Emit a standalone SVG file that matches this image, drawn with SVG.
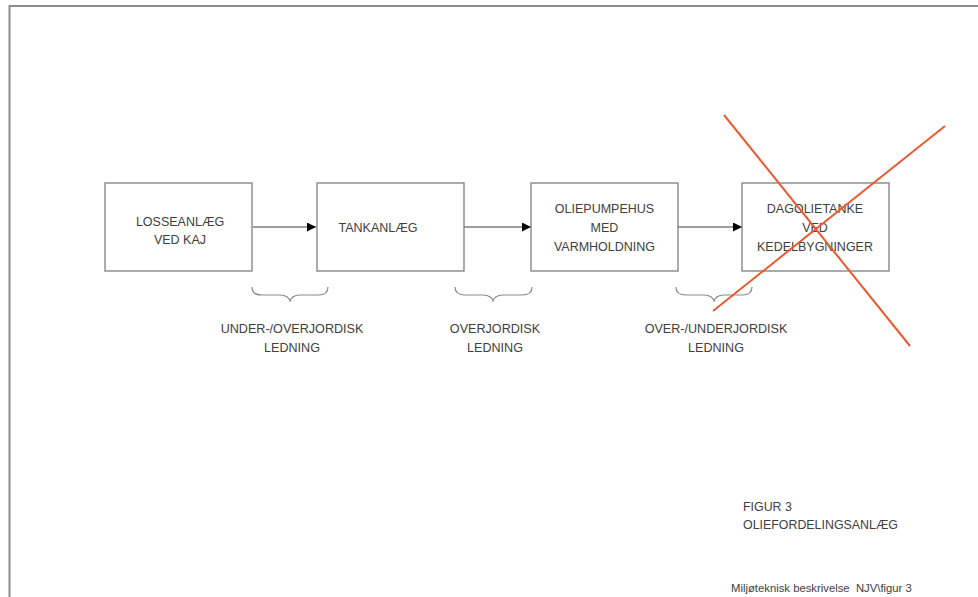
<svg xmlns="http://www.w3.org/2000/svg" width="978" height="597" viewBox="0 0 978 597">
<style>
.box{fill:#fff;stroke:#7f7f7f;stroke-width:1.3}
.t{font-family:"Liberation Sans",Arial,sans-serif;font-size:12.5px;fill:#404040;text-anchor:middle}
.lbl{font-family:"Liberation Sans",Arial,sans-serif;font-size:12.6px;fill:#404040;text-anchor:middle}
.cap{font-family:"Liberation Sans",Arial,sans-serif;font-size:12.4px;fill:#404040}
.arrow{stroke:#404040;stroke-width:1.2;fill:none;marker-end:url(#ah)}
.brace{stroke:#8a8a8a;stroke-width:1.2;fill:none}
.x{stroke:#ea5a30;stroke-width:2;fill:none}
</style>
<defs>
<marker id="ah" viewBox="0 0 10 10" refX="10" refY="5" markerUnits="userSpaceOnUse" markerWidth="9" markerHeight="9" orient="auto">
<path d="M0,0 L10,5 L0,10 Z" fill="#000"/>
</marker>
</defs>
<rect width="978" height="597" fill="#fff"/>
<g id="page-border">
<path d="M9.5,597 L9.5,6 L978,6" stroke="#8c8c8c" stroke-width="2" fill="none"/>
</g>
<g id="connectors">
<line class="arrow" x1="253" y1="227" x2="316" y2="227"/>
<line class="arrow" x1="464" y1="227" x2="531" y2="227"/>
<line class="arrow" x1="678" y1="227" x2="742" y2="227"/>
<path class="brace" d="M252,287 C252,293 256,295 262,295 L280,295 C286,295 290,298 290,302 C290,298 294,295 300,295 L318,295 C324,295 328,293 328,287"/>
<path class="brace" d="M455,287 C455,293 459,295 465,295 L483,295 C489,295 493,298 493,302 C493,298 497,295 503,295 L522,295 C528,295 532,293 532,287"/>
<path class="brace" d="M676,287 C676,293 680,295 686,295 L704,295 C710,295 714,298 714,302 C714,298 718,295 724,295 L742,295 C748,295 752,293 752,287"/>
</g>
<g id="node-losseanlaeg">
<rect class="box" x="105" y="183" width="147" height="88"/>
<text class="t" x="180" y="226">LOSSEANLÆG</text>
<text class="t" x="180" y="244">VED KAJ</text>
</g>
<g id="node-tankanlaeg">
<rect class="box" x="317" y="183" width="147" height="88"/>
<text class="t" x="378" y="232">TANKANLÆG</text>
</g>
<g id="node-oliepumpehus">
<rect class="box" x="531" y="183" width="147" height="88"/>
<text class="t" x="604.5" y="213">OLIEPUMPEHUS</text>
<text class="t" x="604.5" y="232">MED</text>
<text class="t" x="604.5" y="251">VARMHOLDNING</text>
</g>
<g id="node-dagolietanke">
<rect class="box" x="742" y="183" width="147" height="88"/>
<text class="t" x="815" y="213">DAGOLIETANKE</text>
<text class="t" x="815" y="232">VED</text>
<text class="t" x="815" y="251">KEDELBYGNINGER</text>
</g>
<g id="labels">
<text class="lbl" x="292" y="333">UNDER-/OVERJORDISK</text>
<text class="lbl" x="292" y="352">LEDNING</text>
<text class="lbl" x="495" y="333">OVERJORDISK</text>
<text class="lbl" x="495" y="352">LEDNING</text>
<text class="lbl" x="716" y="333">OVER-/UNDERJORDISK</text>
<text class="lbl" x="716" y="352">LEDNING</text>
</g>
<g id="cross">
<line class="x" x1="724" y1="115" x2="910" y2="346"/>
<line class="x" x1="945" y1="126" x2="713" y2="311"/>
</g>
<g id="caption">
<text class="cap" x="743" y="511">FIGUR 3</text>
<text class="cap" x="743" y="529">OLIEFORDELINGSANLÆG</text>
<text class="cap" style="font-size:11.3px;white-space:pre" xml:space="preserve" x="731" y="592">Miljøteknisk beskrivelse  NJV\figur 3</text>
</g>
</svg>
